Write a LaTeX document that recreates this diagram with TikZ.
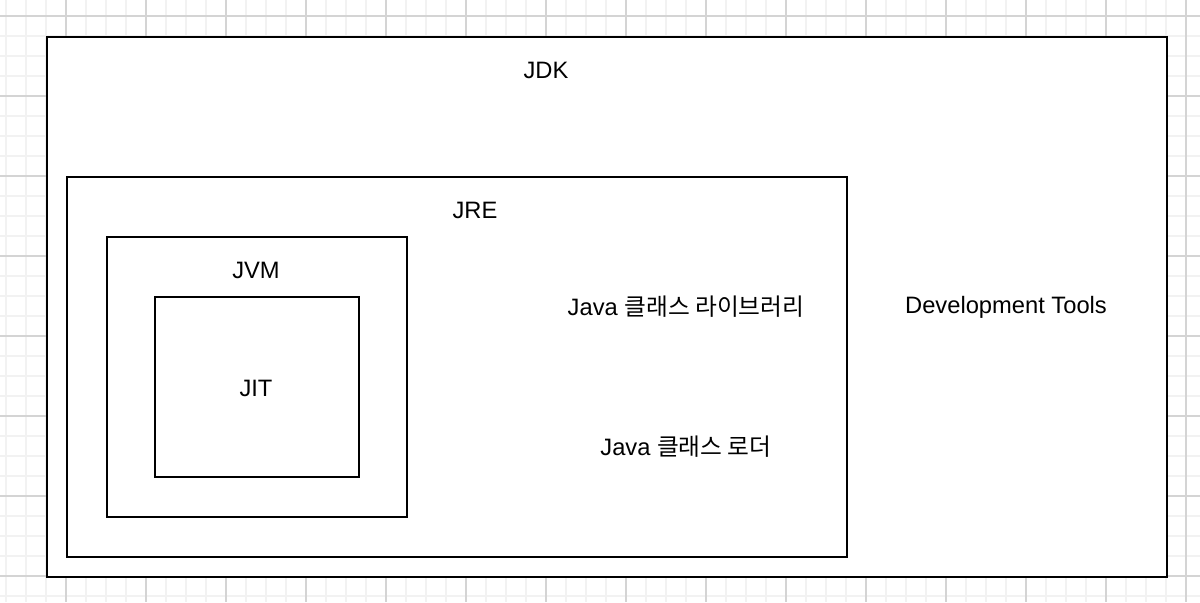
\documentclass[tikz,border=0pt]{standalone}
\usepackage{fontspec}
\setmainfont{Liberation Sans}
\newfontfamily\krfont{Noto Sans CJK KR}
\usetikzlibrary{positioning}

\begin{document}
\begin{tikzpicture}[
    x=0.02cm, y=-0.02cm,
    box/.style={rectangle, draw, line width=1.1pt, inner sep=0pt},
    lbl/.style={font=\fontsize{13.5}{16}\selectfont, inner sep=0pt},
    gridminor/.style={draw=black!5, line width=0.6pt},
    gridmajor/.style={draw=black!17, line width=0.6pt}
]
    \useasboundingbox (0,0) rectangle (1200,602);
    % background grid
    \foreach \x in {6,26,...,1200} \draw[gridminor] (\x,0) -- (\x,602);
    \foreach \y in {16,36,...,602} \draw[gridminor] (0,\y) -- (1200,\y);
    \foreach \x in {66,146,...,1200} \draw[gridmajor] (\x,0) -- (\x,602);
    \foreach \y in {16,96,...,602} \draw[gridmajor] (0,\y) -- (1200,\y);

    % nested boxes
    \node[box, fill=white, minimum width=22.4cm, minimum height=10.8cm] (jdk) at (607,307) {};
    \node[box, minimum width=15.6cm, minimum height=7.6cm] (jre) at (457,367) {};
    \node[box, minimum width=6cm, minimum height=5.6cm] (jvm) at (257,377) {};
    \node[box, minimum width=4.08cm, minimum height=3.6cm] (jit) at (257,387) {};

    \node[lbl] (jdklbl) at (546,70) {JDK};
    \node[lbl] (jrelbl) at (475,210) {JRE};
    \node[lbl] (jvmlbl) at (256,270) {JVM};
    \node[lbl] (jitlbl) at (256,388) {JIT};
    \node[lbl] (classlib) at (686,307) {Java {\krfont 클래스 라이브러리}};
    \node[lbl] (loader) at (686,447) {Java {\krfont 클래스 로더}};
    \node[lbl] (devtools) at (1006,307) {Development Tools};
\end{tikzpicture}
\end{document}
